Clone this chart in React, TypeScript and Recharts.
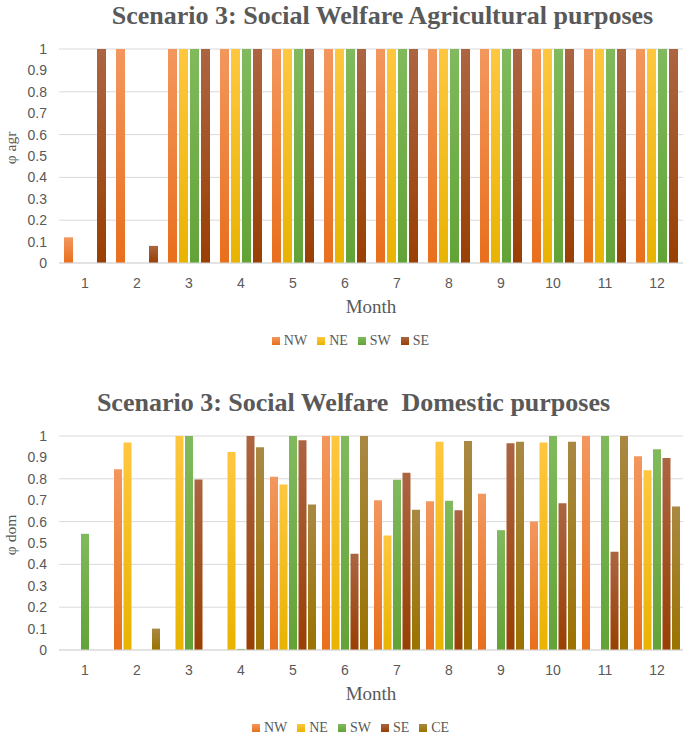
import { BarChart, Bar, XAxis, YAxis, CartesianGrid, Legend } from "recharts"

// months on the x axis
const months = ["1", "2", "3", "4", "5", "6", "7", "8", "9", "10", "11", "12"]
const yTicks = [0, 0.1, 0.2, 0.3, 0.4, 0.5, 0.6, 0.7, 0.8, 0.9, 1]

// agricultural purposes (phi agr)
const agrNW = [0.12, 1, 1, 1, 1, 1, 1, 1, 1, 1, 1, 1]
const agrNE = [0, 0, 1, 1, 1, 1, 1, 1, 1, 1, 1, 1]
const agrSW = [0, 0, 1, 1, 1, 1, 1, 1, 1, 1, 1, 1]
const agrSE = [1, 0.08, 1, 1, 1, 1, 1, 1, 1, 1, 1, 1]

// domestic purposes (phi dom)
const domNW = [0, 0.845, 0, 0, 0.81, 1, 0.7, 0.695, 0.73, 0.6, 1, 0.905]
const domNE = [0, 0.97, 1, 0.925, 0.773, 1, 0.535, 0.973, 0, 0.97, 0, 0.84]
const domSW = [0.543, 0, 1, 0.005, 1, 1, 0.795, 0.698, 0.56, 1, 1, 0.938]
const domSE = [0, 0, 0.797, 1, 0.98, 0.45, 0.828, 0.653, 0.966, 0.686, 0.459, 0.897]
const domCE = [0, 0.1, 0, 0.948, 0.68, 1, 0.655, 0.977, 0.973, 0.973, 1, 0.67]

// light top / dark bottom, like the excel gradient fill
const gradients: Record<string, [string, string]> = {
  NW: ["#F3975E", "#E86F1C"],
  NE: ["#FFC73F", "#E9B300"],
  SW: ["#80BA5D", "#62A337"],
  SE: ["#AC6542", "#993F02"],
  CE: ["#A98843", "#9A7300"],
}

const text = "#595959"
const grid = "#d9d9d9"

function buildRows(series: Record<string, number[]>) {
  return months.map((m, i) => {
    const row: Record<string, string | number> = { month: m }
    Object.keys(series).forEach((k) => {
      row[k] = series[k][i]
    })
    return row
  })
}

const agrRows = buildRows({ NW: agrNW, NE: agrNE, SW: agrSW, SE: agrSE })
const domRows = buildRows({ NW: domNW, NE: domNE, SW: domSW, SE: domSE, CE: domCE })

type ChartProps = {
  id: string
  title: string
  titleLeft: number
  yLabel: string
  rows: Record<string, string | number>[]
  keys: string[]
  top: number
  catGap: number
  barGap: number
}

// rotated axis title, sits a little above the plot middle like excel does
function YTitle({ viewBox, value }: any) {
  const cx = 10
  const cy = viewBox.y + viewBox.height / 2 - 8
  return (
    <text
      x={cx}
      y={cy}
      transform={`rotate(-90, ${cx}, ${cy})`}
      textAnchor="middle"
      dominantBaseline="central"
      fill={text}
      fontSize={15.5}
      fontFamily="'Liberation Serif', serif"
    >
      {value}
    </text>
  )
}

function WelfareChart({ id, title, titleLeft, yLabel, rows, keys, top, catGap, barGap }: ChartProps) {
  return (
    <div style={{ position: "absolute", left: 0, top, width: 685, height: 352 }}>
      <div
        style={{
          position: "absolute",
          top: 1,
          left: titleLeft,
          width: 685,
          textAlign: "center",
          fontFamily: "'Liberation Serif', serif",
          fontWeight: "bold",
          fontSize: 26,
          lineHeight: "30px",
          color: text,
          whiteSpace: "pre",
        }}
      >
        {title}
      </div>
      <BarChart
        width={685}
        height={352}
        data={rows}
        margin={{ top: 49, right: 2, left: 0, bottom: 0 }}
        barCategoryGap={catGap}
        barGap={barGap}
      >
        <defs>
          {keys.map((k) => (
            <linearGradient key={k} id={`${id}-${k}`} x1="0" y1="0" x2="0" y2="1">
              <stop offset="0%" stopColor={gradients[k][0]} />
              <stop offset="100%" stopColor={gradients[k][1]} />
            </linearGradient>
          ))}
        </defs>
        <CartesianGrid vertical={false} stroke={grid} />
        <XAxis
          dataKey="month"
          height={65}
          tickLine={false}
          axisLine={{ stroke: grid }}
          tickMargin={9}
          tick={{ fill: text, fontSize: 14, fontFamily: "'Liberation Sans', sans-serif" }}
          label={{
            value: "Month",
            position: "insideBottom",
            offset: 15,
            style: { fill: text, fontSize: 19, fontFamily: "'Liberation Serif', serif" },
          }}
        />
        <YAxis
          width={59}
          domain={[0, 1]}
          ticks={yTicks}
          tickLine={false}
          axisLine={false}
          tickMargin={6}
          tick={{ fill: text, fontSize: 14, fontFamily: "'Liberation Sans', sans-serif" }}
          label={<YTitle value={yLabel} />}
        />
        <Legend
          verticalAlign="bottom"
          height={24}
          iconType="square"
          iconSize={8}
          itemSorter={() => 0}
          wrapperStyle={{ left: 14, top: 331 }}
          formatter={(v) => (
            <span style={{ color: text, fontSize: 14, fontFamily: "'Liberation Serif', serif" }}>{v}</span>
          )}
        />
        {keys.map((k) => (
          <Bar key={k} dataKey={k} fill={`url(#${id}-${k})`} isAnimationActive={false} />
        ))}
      </BarChart>
    </div>
  )
}

export default function App() {
  return (
    <div
      style={{
        position: "absolute",
        left: 0,
        top: 0,
        width: 685,
        height: 736,
        overflow: "hidden",
        background: "#fff",
      }}
    >
      <WelfareChart
        id="agr"
        title="Scenario 3: Social Welfare Agricultural purposes"
        titleLeft={40}
        yLabel="φ agr"
        rows={agrRows}
        keys={["NW", "NE", "SW", "SE"]}
        top={0}
        catGap={5}
        barGap={2}
      />
      <WelfareChart
        id="dom"
        title="Scenario 3: Social Welfare  Domestic purposes"
        titleLeft={11}
        yLabel="φ dom"
        rows={domRows}
        keys={["NW", "NE", "SW", "SE", "CE"]}
        top={387}
        catGap={3}
        barGap={1.5}
      />
    </div>
  )
}
